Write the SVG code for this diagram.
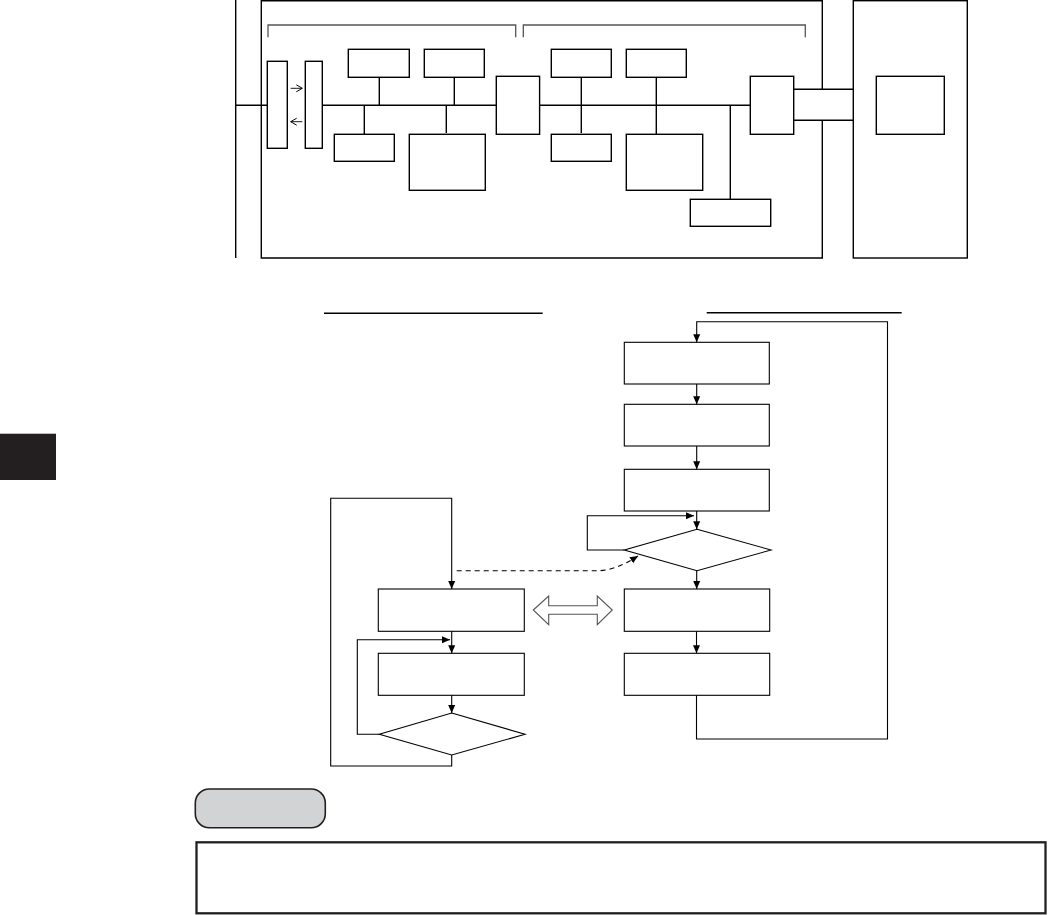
<svg xmlns="http://www.w3.org/2000/svg" width="1049" height="915" viewBox="0 0 1049 915">
<style>
.b{fill:#fff;stroke:#000;stroke-width:1.4}
.l{fill:none;stroke:#000;stroke-width:1.4}
.f{fill:#fff;stroke:#000;stroke-width:1.1}
.c{fill:none;stroke:#000;stroke-width:1.1}
.br{fill:none;stroke:#555;stroke-width:1.3}
</style>
<defs>
<marker id="ar" markerWidth="8" markerHeight="10" refX="8" refY="5" orient="auto" markerUnits="userSpaceOnUse">
<path d="M0,1.5 L8,5 L0,8.5 Z" fill="#000"/>
</marker>
<marker id="sa" markerWidth="10" markerHeight="10" refX="9" refY="5" orient="auto" markerUnits="userSpaceOnUse">
<path d="M3,1.5 L9,5 L3,8.5" fill="none" stroke="#000" stroke-width="1"/>
</marker>
</defs>
<rect id="tab" x="0" y="433.7" width="56" height="46.3" fill="#231f20"/>
<g id="top">
<line class="l" x1="235.7" y1="0" x2="235.7" y2="258"/>
<g id="mainbox"><path class="l" d="M822.3,89.3 L822.3,0.7 L261.3,0.7 L261.3,258 L822.3,258 L822.3,120.3"/></g>
<path class="br" d="M268,37.3 L268,25 L515.7,25 L515.7,37.3"/>
<path class="br" d="M523.3,37.3 L523.3,25 L805.3,25 L805.3,37.3"/>
<g id="conns-top">
<line class="l" x1="235.7" y1="105.3" x2="267.3" y2="105.3"/>
<line class="l" x1="322.3" y1="105.3" x2="496.3" y2="105.3"/>
<line class="l" x1="539.7" y1="105.3" x2="750.3" y2="105.3"/>
<line class="l" x1="379.3" y1="77.3" x2="379.3" y2="105.3"/>
<line class="l" x1="454.3" y1="77.3" x2="454.3" y2="105.3"/>
<line class="l" x1="364.3" y1="105.3" x2="364.3" y2="134.3"/>
<line class="l" x1="446.3" y1="105.3" x2="446.3" y2="133"/>
<line class="l" x1="581.3" y1="77.3" x2="581.3" y2="133"/>
<line class="l" x1="656.3" y1="77.3" x2="656.3" y2="134.3"/>
<line class="l" x1="730.3" y1="105.3" x2="730.3" y2="199.3"/>
<line class="l" x1="793.7" y1="89.3" x2="853.3" y2="89.3"/>
<line class="l" x1="793.7" y1="120.3" x2="853.3" y2="120.3"/>
<line x1="290.7" y1="88.3" x2="302.3" y2="88.3" stroke="#000" stroke-width="0.9" marker-end="url(#sa)"/>
<line x1="302.3" y1="121.7" x2="290.7" y2="121.7" stroke="#000" stroke-width="0.9" marker-end="url(#sa)"/>
</g>
<rect id="n1" class="b" x="267.3" y="61.3" width="20" height="87"/>
<rect id="n2" class="b" x="305.3" y="61.3" width="17" height="87"/>
<rect id="n3" class="b" x="348.3" y="49.3" width="61" height="28"/>
<rect id="n4" class="b" x="424.3" y="49.3" width="60" height="28"/>
<rect id="n5" class="b" x="334.3" y="134.3" width="60" height="27"/>
<rect id="n6" class="b" x="409.3" y="134.3" width="76" height="56"/>
<rect id="n7" class="b" x="496.3" y="76.3" width="43.3" height="58"/>
<rect id="n8" class="b" x="551.3" y="49.3" width="60" height="28"/>
<rect id="n9" class="b" x="626.3" y="49.3" width="60" height="28"/>
<rect id="n10" class="b" x="551.3" y="134.3" width="60" height="27"/>
<rect id="n11" class="b" x="626.3" y="134.3" width="76.4" height="56"/>
<rect id="n12" class="b" x="690.3" y="199.3" width="80.4" height="27"/>
<rect id="n13" class="b" x="750.3" y="76.3" width="43.4" height="58"/>
<rect id="n14" class="b" x="853.3" y="0.7" width="114" height="257.3"/>
<rect id="n15" class="b" x="876.3" y="76.3" width="68" height="58"/>
</g>
<g id="flow">
<line class="l" x1="324" y1="313.3" x2="542.7" y2="313.3"/>
<line class="l" x1="706.7" y1="312.7" x2="901.7" y2="312.7"/>
<rect id="r1" class="f" x="624.3" y="342.3" width="145" height="41.7"/>
<rect id="r2" class="f" x="624.3" y="404.3" width="145" height="41.7"/>
<rect id="r3" class="f" x="624.3" y="469.3" width="145" height="41.7"/>
<polygon id="rd" class="f" points="697,529.3 771,550 697,570.7 624.3,550"/>
<rect id="r4" class="f" x="624.3" y="589" width="145.4" height="42.3"/>
<rect id="r5" class="f" x="624.3" y="653.3" width="145.4" height="42"/>
<rect id="l1" class="f" x="378.3" y="589" width="146" height="42.3"/>
<rect id="l2" class="f" x="378.3" y="653.3" width="146" height="42"/>
<polygon id="ld" class="f" points="451.7,713 525,734.3 451.7,755 379.3,734.3"/>
<g id="connectors">
<path class="c" d="M696.5,695.3 L696.5,739 L887.5,739 L887.5,321.7 L696.7,321.7 L696.7,342.3" marker-end="url(#ar)"/>
<line class="c" x1="696.7" y1="384" x2="696.7" y2="404.3" marker-end="url(#ar)"/>
<line class="c" x1="696.7" y1="446" x2="696.7" y2="469.3" marker-end="url(#ar)"/>
<line class="c" x1="696.7" y1="511" x2="696.7" y2="529.3" marker-end="url(#ar)"/>
<path class="c" d="M624.3,550 L587.3,550 L587.3,515.7 L694,515.7" marker-end="url(#ar)"/>
<line class="c" x1="696.7" y1="570.7" x2="696.7" y2="589" marker-end="url(#ar)"/>
<line class="c" x1="696.5" y1="631.3" x2="696.5" y2="653.3" marker-end="url(#ar)"/>
<path class="c" d="M451.7,755 L451.7,766 L330.7,766 L330.7,498.3 L451.7,498.3 L451.7,589" marker-end="url(#ar)"/>
<line class="c" x1="451.7" y1="631.3" x2="451.7" y2="653.3" marker-end="url(#ar)"/>
<line class="c" x1="451.7" y1="695.3" x2="451.7" y2="713" marker-end="url(#ar)"/>
<path class="c" d="M379.3,734.3 L357.3,734.3 L357.3,639.7 L450,639.7" marker-end="url(#ar)"/>
<path class="c" d="M456.7,570.7 L598,570.7 Q615,570.7 638,556" stroke-dasharray="5,4" marker-end="url(#ar)"/>
<path d="M533.3,610 L548.7,596 L548.7,605.7 L597.3,605.7 L597.3,596 L612.3,610 L597.3,624.7 L597.3,614.3 L548.7,614.3 L548.7,624.7 Z" fill="#fff" stroke="#555" stroke-width="1.1"/>
</g>
</g>
<g id="note">
<rect x="195.3" y="789" width="130" height="38.7" rx="14" fill="#d1d3d4" stroke="#231f20" stroke-width="1.6"/>
<rect x="196.5" y="842.3" width="849" height="71" fill="none" stroke="#231f20" stroke-width="2.3"/>
</g>
</svg>
